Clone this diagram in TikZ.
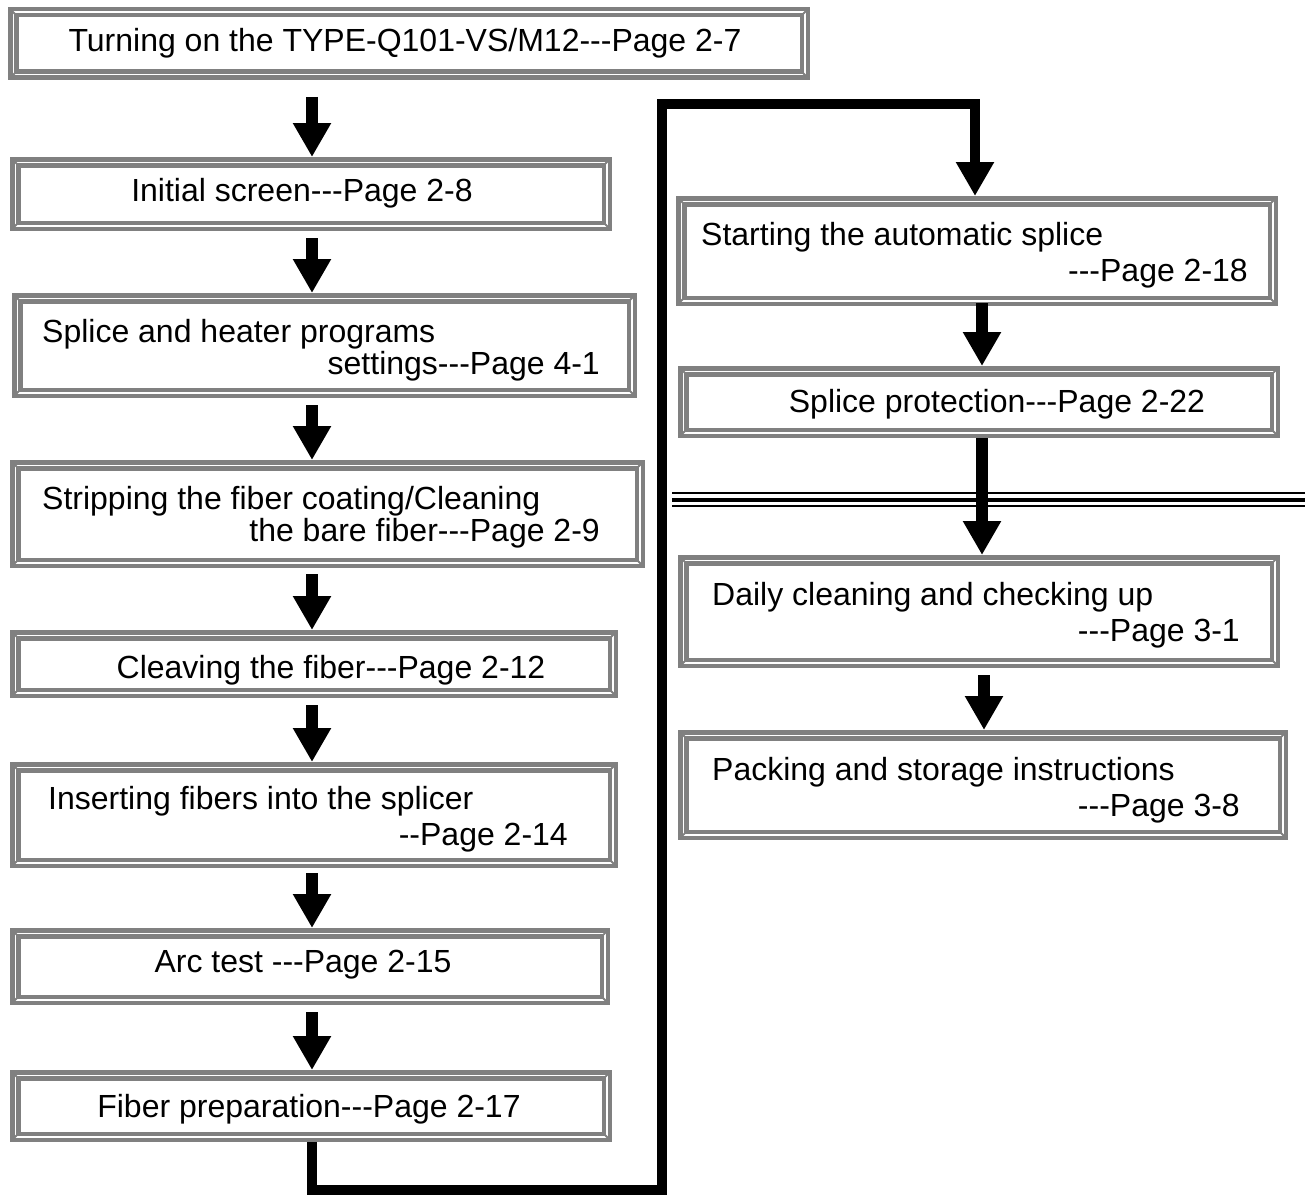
\documentclass[tikz,border=0pt]{standalone}
\usepackage{fontspec}
\setmainfont{Liberation Sans}[Ligatures=TeXOff]
\usetikzlibrary{arrows.meta,calc}
\definecolor{framegray}{HTML}{808080}
\tikzset{
  bev/.style={rectangle, draw=framegray, line width=4.5pt, double=white,
    double distance=1.5pt, inner sep=0pt, outer sep=5.25pt},
  lbl/.style={inner sep=0pt, font=\fontsize{32}{38}\selectfont},
  fat/.style={line width=12pt, -{Triangle[width=36pt,length=34pt]}},
  conn/.style={line width=10pt, line join=miter, -{Triangle[width=36pt,length=34pt]}},
  sepline/.style={line width=#1},
}
\newcommand\bevbox[5]{%
  \node[bev, minimum width={#4-#2-10.5}, minimum height={#5-#3-10.5}]
    (#1) at ({(#2+#4)/2},{(#3+#5)/2}) {};
  \foreach \c/\dx/\dy in {north west/1/1, north east/-1/1, south west/1/-1, south east/-1/-1}
    \draw[framegray, line width=1.8pt] ($(#1.\c)+(2*\dx,2*\dy)$) -- ($(#1.\c)+(9*\dx,9*\dy)$);
}
\begin{document}
\begin{tikzpicture}[x=1pt,y=-1pt]
\useasboundingbox (0,0) rectangle (1313,1196);
% boxes
\bevbox{b1}{8}{7}{810}{80}
\bevbox{b2}{10}{157}{612}{231}
\bevbox{b3}{12}{293}{637}{398}
\bevbox{b4}{10}{460}{645}{568}
\bevbox{b5}{10}{630}{618}{698}
\bevbox{b6}{10}{762}{618}{868}
\bevbox{b7}{10}{928}{610}{1005}
\bevbox{b8}{10}{1070}{612}{1142}
\bevbox{b9}{676}{196}{1278}{306}
\bevbox{b10}{678}{366}{1280}{438}
\bevbox{b11}{678}{555}{1280}{668}
\bevbox{b12}{678}{730}{1288}{840}
% texts
\node[lbl, anchor=base] (t1) at (405,52) {Turning on the TYPE-Q101-VS/M12---Page 2-7};
\node[lbl, anchor=base] (t2) at (302,201) {Initial screen---Page 2-8};
\node[lbl, anchor=base west] (t3a) at (42,342) {Splice and heater programs};
\node[lbl, anchor=base east] (t3b) at (600,374) {settings---Page 4-1};
\node[lbl, anchor=base west] (t4a) at (42,509) {Stripping the fiber coating/Cleaning};
\node[lbl, anchor=base east] (t4b) at (600,541) {the bare fiber---Page 2-9};
\node[lbl, anchor=base] (t5) at (331,678) {Cleaving the fiber---Page 2-12};
\node[lbl, anchor=base west] (t6a) at (48,809) {Inserting fibers into the splicer};
\node[lbl, anchor=base east] (t6b) at (568,845) {--Page 2-14};
\node[lbl, anchor=base] (t7) at (303,972) {Arc test ---Page 2-15};
\node[lbl, anchor=base] (t8) at (309,1117) {Fiber preparation---Page 2-17};
\node[lbl, anchor=base west] (t9a) at (701,245) {Starting the automatic splice};
\node[lbl, anchor=base east] (t9b) at (1248,281) {---Page 2-18};
\node[lbl, anchor=base] (t10) at (997,412) {Splice protection---Page 2-22};
\node[lbl, anchor=base west] (t11a) at (712,605) {Daily cleaning and checking up};
\node[lbl, anchor=base east] (t11b) at (1240,641) {---Page 3-1};
\node[lbl, anchor=base west] (t12a) at (712,780) {Packing and storage instructions};
\node[lbl, anchor=base east] (t12b) at (1240,816) {---Page 3-8};
% separator
\coordinate (sepL) at (672,0);
\coordinate (sepR) at (1305,0);
\draw[sepline=2.5pt] ($(sepL)+(0,493)$) -- ($(sepR)+(0,493)$);
\draw[sepline=4pt] ($(sepL)+(0,500)$) -- ($(sepR)+(0,500)$);
\draw[sepline=2.5pt] ($(sepL)+(0,506)$) -- ($(sepR)+(0,506)$);
% column axes
\coordinate (Lx) at (312,0);
\coordinate (Rx) at (982,0);
\coordinate (Rx2) at (984,0);
% left column arrows
\draw[fat] ($(b1.south -| Lx)+(0,17)$) -- (b2.north -| Lx);
\draw[fat] ($(b2.south -| Lx)+(0,7)$) -- (b3.north -| Lx);
\draw[fat] ($(b3.south -| Lx)+(0,7)$) -- (b4.north -| Lx);
\draw[fat] ($(b4.south -| Lx)+(0,6)$) -- (b5.north -| Lx);
\draw[fat] ($(b5.south -| Lx)+(0,7)$) -- (b6.north -| Lx);
\draw[fat] ($(b6.south -| Lx)+(0,5)$) -- (b7.north -| Lx);
\draw[fat] ($(b7.south -| Lx)+(0,7)$) -- (b8.north -| Lx);
% long connector
\coordinate (c1) at (312,1190);
\coordinate (c2) at (662,1190);
\coordinate (c3) at (662,104);
\coordinate (c4) at (975,104);
\draw[conn] (b8.south -| Lx) -- (c1) -- (c2) -- (c3) -- (c4) -- (b9.north -| c4);
% right column arrows
\draw[fat] ($(b9.south -| Rx)+(0,-3)$) -- (b10.north -| Rx);
\draw[fat] (b10.south -| Rx) -- (b11.north -| Rx);
\draw[fat] ($(b11.south -| Rx2)+(0,7)$) -- (b12.north -| Rx2);
\end{tikzpicture}
\end{document}
